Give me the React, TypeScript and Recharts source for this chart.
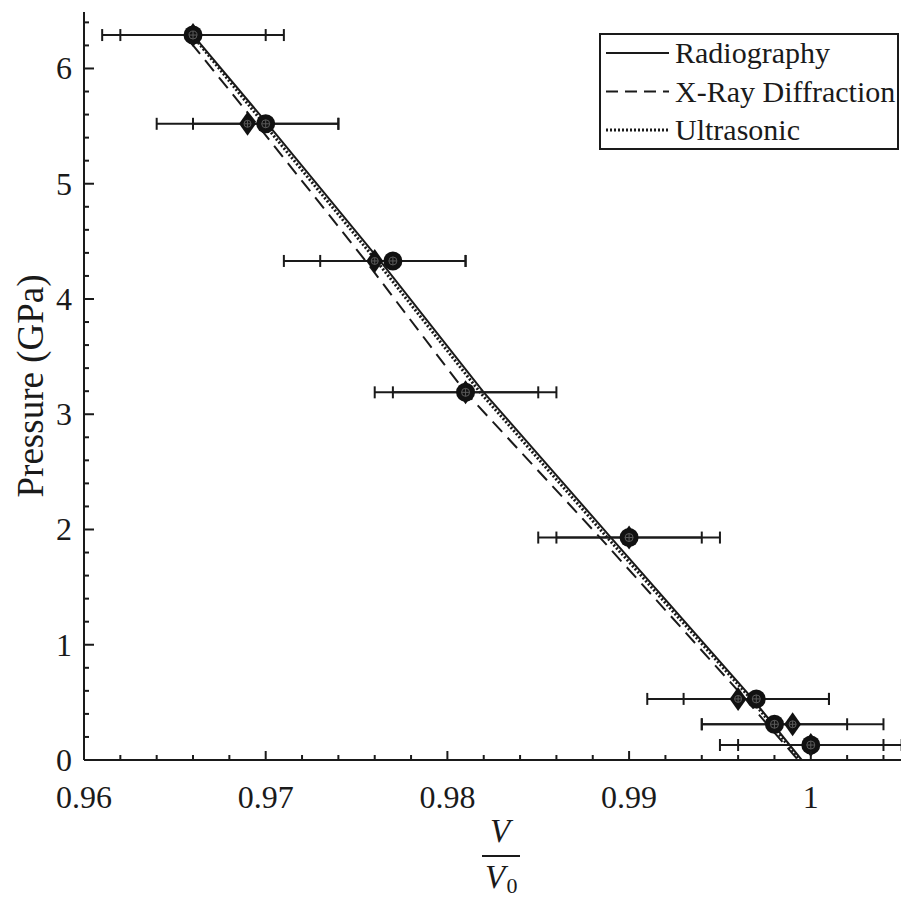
import { ScatterChart, Scatter, XAxis, YAxis, ErrorBar, Legend } from 'recharts'

// measured points (same pressures for both marker sets)
const PRESSURE = [6.29, 5.52, 4.33, 3.19, 1.93, 0.53, 0.31, 0.13]
const CIRCLE_V = [0.966, 0.97, 0.977, 0.981, 0.99, 0.997, 0.998, 1.0]
const CIRCLE_ERR = [0.005, 0.004, 0.004, 0.004, 0.004, 0.004, 0.004, 0.004]
const DIAMOND_V = [0.966, 0.969, 0.976, 0.981, 0.99, 0.996, 0.999, 1.0]
const DIAMOND_ERR = [0.004, 0.005, 0.005, 0.005, 0.005, 0.005, 0.005, 0.005]

// fitted curves
const RADIO_V = [0.966, 0.9701, 0.9763, 0.982, 0.989, 0.9968, 0.9995]
const RADIO_P = [6.29, 5.52, 4.33, 3.19, 1.93, 0.53, 0]
const XRD_V = [0.9659, 0.9695, 0.9755, 0.981, 0.9884, 0.9964, 0.9993]
const XRD_P = [6.22, 5.52, 4.33, 3.19, 1.93, 0.53, 0]
const ULTRA_V = [0.966, 0.9699, 0.9761, 0.9818, 0.9888, 0.9967, 0.9994]
const ULTRA_P = [6.28, 5.52, 4.33, 3.19, 1.93, 0.53, 0]

const X_TICKS = [
  0.96, 0.962, 0.964, 0.966, 0.968, 0.97, 0.972, 0.974, 0.976, 0.978, 0.98,
  0.982, 0.984, 0.986, 0.988, 0.99, 0.992, 0.994, 0.996, 0.998, 1.0, 1.002, 1.004,
]
const Y_TICKS = [
  0, 0.2, 0.4, 0.6, 0.8, 1, 1.2, 1.4, 1.6, 1.8, 2, 2.2, 2.4, 2.6, 2.8, 3, 3.2,
  3.4, 3.6, 3.8, 4, 4.2, 4.4, 4.6, 4.8, 5, 5.2, 5.4, 5.6, 5.8, 6, 6.2, 6.4,
]

const LEGEND_ITEMS = [
  { name: 'Radiography', dash: undefined as string | undefined, width: 2 },
  { name: 'X-Ray Diffraction', dash: '12 7', width: 2 },
  { name: 'Ultrasonic', dash: '2 2', width: 3 },
]

const INK = '#1a1a1a'
const FONT = '"Liberation Serif", serif'

const circles = PRESSURE.map((p, i) => ({ v: CIRCLE_V[i], p, err: CIRCLE_ERR[i] }))
const diamonds = PRESSURE.map((p, i) => ({ v: DIAMOND_V[i], p, err: DIAMOND_ERR[i] }))
const radio = RADIO_V.map((v, i) => ({ v, p: RADIO_P[i] }))
const xrd = XRD_V.map((v, i) => ({ v, p: XRD_P[i] }))
const ultra = ULTRA_V.map((v, i) => ({ v, p: ULTRA_P[i] }))

const isMajorX = (v: number) => Math.abs(v * 100 - Math.round(v * 100)) < 1e-6
const isMajorY = (v: number) => Math.abs(v - Math.round(v)) < 1e-6

const BottomTick = (props: any) => {
  const { x, y, payload } = props
  const major = isMajorX(payload.value)
  return (
    <g>
      <line x1={x} x2={x} y1={y} y2={y - (major ? 9 : 5)} stroke={INK} strokeWidth={2} />
      {major && (
        <text x={x} y={y + 48} textAnchor="middle" fontSize={32} fill={INK} fontFamily={FONT}>
          {String(payload.value)}
        </text>
      )}
    </g>
  )
}

const TopTick = (props: any) => {
  const { x, y, payload } = props
  const major = isMajorX(payload.value)
  return <line x1={x} x2={x} y1={y} y2={y + (major ? 9 : 5)} stroke={INK} strokeWidth={2} />
}

const LeftTick = (props: any) => {
  const { x, y, payload } = props
  const major = isMajorY(payload.value)
  return (
    <g>
      <line x1={x} x2={x + (major ? 10 : 5)} y1={y} y2={y} stroke={INK} strokeWidth={2} />
      {major && (
        <text x={x - 12} y={y + 11} textAnchor="end" fontSize={32} fill={INK} fontFamily={FONT}>
          {String(payload.value)}
        </text>
      )}
    </g>
  )
}

const CircleMark = (props: any) => {
  const { cx, cy } = props
  return (
    <g>
      <circle cx={cx} cy={cy} r={9.5} fill="#111" />
      <circle cx={cx} cy={cy} r={4} fill="none" stroke="#5a5a5a" strokeWidth={1} />
      <line x1={cx - 4} x2={cx + 4} y1={cy} y2={cy} stroke="#5a5a5a" strokeWidth={1} />
      <line x1={cx} x2={cx} y1={cy - 4} y2={cy + 4} stroke="#5a5a5a" strokeWidth={1} />
    </g>
  )
}

const DiamondMark = (props: any) => {
  const { cx, cy } = props
  return (
    <g>
      <polygon
        points={`${cx},${cy - 12} ${cx + 8.5},${cy} ${cx},${cy + 12} ${cx - 8.5},${cy}`}
        fill="#111"
      />
      <circle cx={cx} cy={cy} r={3.5} fill="none" stroke="#5a5a5a" strokeWidth={1} />
      <line x1={cx - 3.5} x2={cx + 3.5} y1={cy} y2={cy} stroke="#5a5a5a" strokeWidth={1} />
      <line x1={cx} x2={cx} y1={cy - 3.5} y2={cy + 3.5} stroke="#5a5a5a" strokeWidth={1} />
    </g>
  )
}

const NoMark = () => <g />

const LegendBox = () => (
  <svg width={300} height={117} style={{ display: 'block' }}>
    <rect x={1} y={1} width={298} height={115} fill="#fff" stroke={INK} strokeWidth={2} />
    {LEGEND_ITEMS.map((it, i) => {
      const cy = 20 + i * 38.5
      return (
        <g key={it.name}>
          <line x1={7} x2={70} y1={cy} y2={cy} stroke={INK} strokeWidth={it.width} strokeDasharray={it.dash} />
          <text x={76} y={cy + 10} fontSize={30} fill={INK} fontFamily={FONT}>{it.name}</text>
        </g>
      )
    })}
  </svg>
)

const XLabel = () => (
  <g fontFamily={FONT} fill={INK} fontStyle="italic">
    <text x={492} y={834} fontSize={33} textAnchor="middle">V</text>
    <line x1={474} x2={512} y1={848} y2={848} stroke={INK} strokeWidth={2} />
    <text x={487} y={880} fontSize={33} textAnchor="middle">V</text>
    <text x={504} y={885} fontSize={22} fontStyle="normal" textAnchor="middle">0</text>
  </g>
)

export default function App() {
  const X_DOMAIN: [number, number] = [0.96, 1.00535]
  return (
    <div style={{ position: 'relative', width: 901, height: 890 }}>
      <ScatterChart
        width={901}
        height={890}
        margin={{ top: 4, right: 1, bottom: 98, left: 16 }}
        style={{ fontFamily: FONT }}
      >
        <XAxis
          xAxisId="bottom"
          dataKey="v"
          type="number"
          domain={X_DOMAIN}
          allowDataOverflow
          ticks={X_TICKS}
          interval={0}
          tick={<BottomTick />}
          tickLine={false}
          tickSize={0}
          tickMargin={0}
          height={40}
          axisLine={{ stroke: INK, strokeWidth: 2 }}
          label={{ content: () => <XLabel /> }}
        />
        <XAxis
          xAxisId="top"
          orientation="top"
          type="number"
          domain={X_DOMAIN}
          allowDataOverflow
          ticks={X_TICKS}
          interval={0}
          tick={<TopTick />}
          tickLine={false}
          tickSize={0}
          tickMargin={0}
          height={0}
          axisLine={{ stroke: INK, strokeWidth: 2 }}
        />
        <YAxis
          dataKey="p"
          type="number"
          domain={[0, 6.49]}
          allowDataOverflow
          ticks={Y_TICKS}
          interval={0}
          tick={<LeftTick />}
          tickLine={false}
          tickSize={0}
          tickMargin={0}
          width={60}
          axisLine={{ stroke: INK, strokeWidth: 2 }}
          label={{
            value: 'Pressure (GPa)',
            angle: -90,
            position: 'insideLeft',
            content: (p: any) => {
              const vb = p.viewBox
              const cy = vb.y + vb.height / 2
              return (
                <text
                  x={22}
                  y={cy}
                  transform={`rotate(-90 22 ${cy})`}
                  textAnchor="middle"
                  dominantBaseline="central"
                  fontSize={37}
                  fill={INK}
                  fontFamily={FONT}
                >
                  Pressure (GPa)
                </text>
              )
            },
          }}
        />
        <Scatter
          xAxisId="bottom"
          name="Radiography"
          data={radio}
          line={{ stroke: INK, strokeWidth: 2 }}
          shape={NoMark}
          isAnimationActive={false}
        />
        <Scatter
          xAxisId="bottom"
          name="X-Ray Diffraction"
          data={xrd}
          line={{ stroke: INK, strokeWidth: 2, strokeDasharray: '14 8' }}
          shape={NoMark}
          isAnimationActive={false}
        />
        <Scatter
          xAxisId="bottom"
          name="Ultrasonic"
          data={ultra}
          line={{ stroke: INK, strokeWidth: 3, strokeDasharray: '2 2' }}
          shape={NoMark}
          isAnimationActive={false}
        />
        <Scatter xAxisId="bottom" data={diamonds} shape={DiamondMark} isAnimationActive={false}>
          <ErrorBar dataKey="err" direction="x" width={6} stroke={INK} strokeWidth={2} />
        </Scatter>
        <Scatter xAxisId="bottom" data={circles} shape={CircleMark} isAnimationActive={false}>
          <ErrorBar dataKey="err" direction="x" width={6} stroke={INK} strokeWidth={2} />
        </Scatter>
        <Legend
          layout="vertical"
          align="center"
          verticalAlign="middle"
          content={() => <LegendBox />}
          wrapperStyle={{ position: 'absolute', left: 591, top: 25, width: 300, height: 117 }}
        />
      </ScatterChart>
    </div>
  )
}
